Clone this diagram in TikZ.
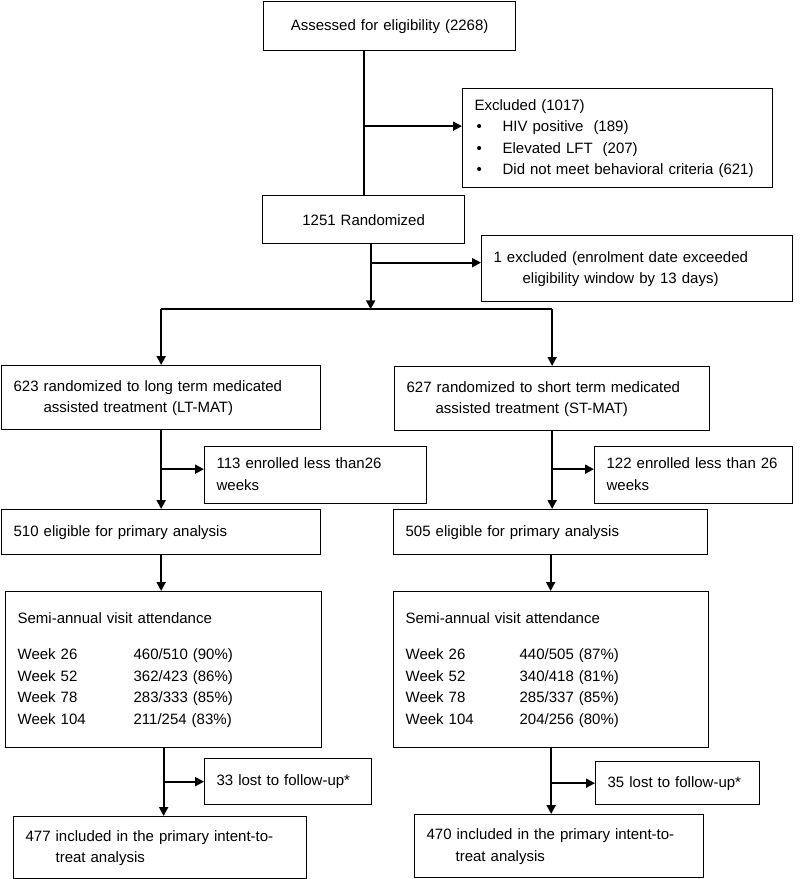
\documentclass[tikz,border=0pt]{standalone}
\usepackage{fontspec}
\setmainfont{Liberation Sans}
\usetikzlibrary{arrows.meta}

\newcommand{\boxlines}[1]{\begin{tabular}{@{}l@{}}#1\end{tabular}}

\tikzset{
  box/.style={draw, line width=1.3pt, anchor=north west, align=left,
    inner xsep=12pt, inner ysep=0pt, font=\fontsize{15}{21.5}\selectfont},
  mid/.style={align=center},
  arr/.style={line width=1.9pt, -{Triangle[length=9pt,width=9pt]}},
  link/.style={line width=1.9pt}
}

\begin{document}
\begin{tikzpicture}[x=1pt, y=-1pt]
  \useasboundingbox (0,0) rectangle (800,879);

  % screening
  \node[box, mid, minimum width=252, minimum height=49, text width=228] (assess) at (263,1) {Assessed for eligibility (2268)};
  \node[box, minimum width=310, minimum height=99, text width=286] (excl) at (462,88)
    {\boxlines{Excluded (1017)\\
     \hspace*{2pt}\makebox[26pt][l]{\textbullet}HIV positive\ \ (189)\\
     \hspace*{2pt}\makebox[26pt][l]{\textbullet}Elevated LFT\ \ (207)\\
     \hspace*{2pt}\makebox[26pt][l]{\textbullet}Did not meet behavioral criteria (621)}};
  \node[box, mid, minimum width=202, minimum height=48, text width=178] (rand) at (262,195) {1251 Randomized};
  \node[box, minimum width=311, minimum height=66, text width=287] (late) at (481,235)
    {\boxlines{1 excluded (enrolment date exceeded\\ \hspace*{29pt}eligibility window by 13 days)}};

  % arms
  \node[box, minimum width=319, minimum height=64, text width=295] (ltmat) at (1,365)
    {\boxlines{623 randomized to long term medicated\\ \hspace*{30pt}assisted treatment (LT-MAT)}};
  \node[box, minimum width=315, minimum height=64, text width=291] (stmat) at (394,366)
    {\boxlines{627 randomized to short term medicated\\ \hspace*{29pt}assisted treatment (ST-MAT)}};
  \node[box, minimum width=222, minimum height=57, text width=198] (short1) at (204,446) {\boxlines{113 enrolled less than26\\ weeks}};
  \node[box, minimum width=198, minimum height=57, text width=174] (short2) at (594,446) {\boxlines{122 enrolled less than 26\\ weeks}};
  \node[box, minimum width=319, minimum height=45, text width=295] (elig1) at (1,509) {\boxlines{510 eligible for primary analysis}};
  \node[box, minimum width=314, minimum height=45, text width=290] (elig2) at (393,509) {\boxlines{505 eligible for primary analysis}};

  % attendance
  \node[box, minimum width=316, minimum height=156, text width=292] (semi1) at (5,591)
    {\boxlines{Semi-annual visit attendance\\[14.5pt]
     \makebox[116pt][l]{Week 26}460/510 (90\%)\\
     \makebox[116pt][l]{Week 52}362/423 (86\%)\\
     \makebox[116pt][l]{Week 78}283/333 (85\%)\\
     \makebox[116pt][l]{Week 104}211/254 (83\%)}};
  \node[box, minimum width=315, minimum height=156, text width=291] (semi2) at (393,591)
    {\boxlines{Semi-annual visit attendance\\[14.5pt]
     \makebox[114pt][l]{Week 26}440/505 (87\%)\\
     \makebox[114pt][l]{Week 52}340/418 (81\%)\\
     \makebox[114pt][l]{Week 78}285/337 (85\%)\\
     \makebox[114pt][l]{Week 104}204/256 (80\%)}};
  \node[box, minimum width=167, minimum height=46, text width=143] (lost1) at (204,758) {\boxlines{33 lost to follow-up*}};
  \node[box, minimum width=164, minimum height=43, text width=140] (lost2) at (595,761) {\boxlines{35 lost to follow-up*}};
  \node[box, minimum width=293, minimum height=62, text width=269] (itt1) at (13,816)
    {\boxlines{477 included in the primary intent-to-\\ \hspace*{30pt}treat analysis}};
  \node[box, minimum width=289, minimum height=63, text width=265] (itt2) at (414,814)
    {\boxlines{470 included in the primary intent-to-\\ \hspace*{29pt}treat analysis}};

  % connectors
  \coordinate (exclin) at ([yshift=12pt]excl.west);
  \coordinate (latein) at ([yshift=6pt]late.west);
  \coordinate (randout) at ([xshift=7pt]rand.south);
  \coordinate (split) at ([yshift=-65pt]randout);
  \coordinate (short1in) at ([yshift=6pt]short1.west);
  \coordinate (short2in) at ([yshift=6pt]short2.west);

  \draw[link] (rand.north) -- (rand.north |- assess.south);
  \draw[arr] (rand.north |- exclin) -- (exclin);
  \draw[arr] (randout) -- (split);
  \draw[arr] (randout |- latein) -- (latein);
  \draw[link] (ltmat.north |- split) -- (stmat.north |- split);
  \draw[arr] (ltmat.north |- split) -- (ltmat.north);
  \draw[arr] (stmat.north |- split) -- (stmat.north);

  \draw[arr] (ltmat.south) -- (ltmat.south |- elig1.north);
  \draw[arr] (ltmat.south |- short1in) -- (short1in);
  \draw[arr] (stmat.south) -- (stmat.south |- elig2.north);
  \draw[arr] (stmat.south |- short2in) -- (short2in);

  \draw[arr] (elig1.south) -- (elig1.south |- semi1.north);
  \draw[arr] (elig2.south) -- (elig2.south |- semi2.north);

  \draw[arr] (semi1.south) -- (semi1.south |- itt1.north);
  \draw[arr] (semi1.south |- lost1.west) -- (lost1.west);
  \draw[arr] (semi2.south) -- (semi2.south |- itt2.north);
  \draw[arr] (semi2.south |- lost2.west) -- (lost2.west);
\end{tikzpicture}
\end{document}
